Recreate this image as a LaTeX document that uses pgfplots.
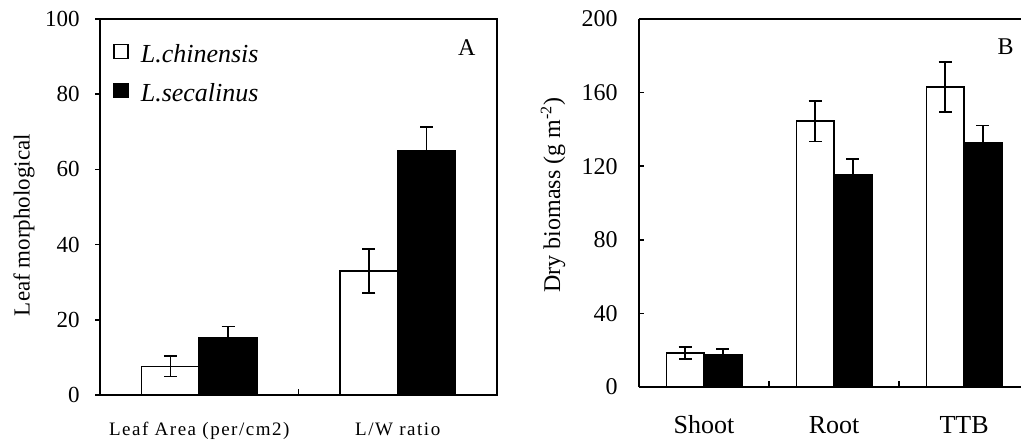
\documentclass[border=0pt]{standalone}
\usepackage{fontspec}
\setmainfont{Liberation Serif}
\usepackage{pgfplots}
\pgfplotsset{compat=1.18}

\pgfplotsset{
  panel/.style={
    scale only axis,
    anchor=south west,
    ybar, bar width=0.29,
    axis line style={line width=0.9pt},
    tick pos=left, tick align=inside,
    major tick length=2.5pt, minor tick length=3pt,
    tick style={black, line width=0.8pt},
    major x tick style={draw=none},
    /pgf/number format/assume math mode=true,
    yticklabel style={anchor=east, inner sep=0pt},
    xticklabel style={anchor=base, inner sep=0pt},
    legend cell align=left,
  },
  bars/.style={draw=black, line width=0.8pt,
    error bars/y dir=both, error bars/y explicit,
    error bars/error bar style={black, line width=0.8pt},
    error bars/error mark options={black, line width=0.8pt, mark size=3.25pt, rotate=90}},
}

\begin{document}
\begin{tikzpicture}
\useasboundingbox (0pt,0pt) rectangle (510.5pt,219.5pt);

% panel A
\begin{axis}[panel,
  at={(50pt,22pt)}, width=198.5pt, height=188pt,
  xmin=-0.5, xmax=1.5, ymin=0, ymax=100,
  xtick={0,1}, minor xtick={0.5},
  xticklabels={Leaf Area (per/cm2), L/W ratio},
  ytick={0,20,...,100},
  major y tick style={xshift=-2.5pt},
  yticklabel style={xshift=-10pt, font=\fontsize{11.5}{13}\selectfont},
  xticklabel style={yshift=-20pt, font=\fontsize{9.5}{11}\selectfont\addfontfeature{LetterSpace=8}},
  ylabel={Leaf morphological},
  ylabel style={at={(axis description cs:0,0.5)}, anchor=center, yshift=38pt, xshift=-9pt, font=\fontsize{11.5}{13}\selectfont},
  legend style={at={(0,1)}, anchor=north west, xshift=6.5pt, yshift=-12.25pt,
    draw=none, fill=none, inner sep=0pt, row sep=8.6pt, column sep=6pt,
    font=\fontsize{13}{15}\selectfont\itshape, nodes={inner sep=0pt}},
]
\addplot[bars, fill=white, bar shift=-0.145,
  legend image code/.code={\draw[black, line width=0.7pt, fill=white] (0pt,-1.75pt) rectangle (7pt,5.25pt);}]
  coordinates {(0,7.6) +- (0,2.7) (1,33.0) +- (0,5.8)};
\addlegendentry{L.chinensis}
\addplot[bars, fill=black, bar shift=0.145,
  legend image code/.code={\draw[black, line width=0.7pt, fill=black] (0pt,-1.75pt) rectangle (7pt,5.25pt);}]
  coordinates {(0,15.1) +- (0,3.1) (1,65.0) +- (0,6.2)};
\addlegendentry{L.secalinus}
\node[font=\fontsize{12}{14}\selectfont] at (rel axis cs:0.924,0.923) {A};
\end{axis}

% panel B (cut at the right edge of the picture, as in the original)
\begin{axis}[panel,
  at={(319.5pt,26pt)}, width=191pt, height=184pt,
  axis y line*=left,
  xmin=-0.5, xmax=2.438, ymin=0, ymax=200,
  xtick={0,1,2}, minor xtick={0.5,1.5},
  xticklabels={Shoot, Root, TTB},
  ytick={0,40,...,200},
  yticklabel style={xshift=-10.5pt, font=\fontsize{12}{14}\selectfont},
  xticklabel style={yshift=-23pt, font=\fontsize{13}{15}\selectfont},
  ylabel={Dry biomass (g m\textsuperscript{-2})},
  ylabel style={at={(axis description cs:0,0.5)}, anchor=center, yshift=43pt, xshift=4pt, font=\fontsize{12}{14}\selectfont},
]
\addplot[bars, fill=white, bar shift=-0.145]
  coordinates {(0,18.5) +- (0,3.4) (1,144.5) +- (0,11.0) (2,163.0) +- (0,13.6)};
\addplot[bars, fill=black, bar shift=0.145]
  coordinates {(0,17.5) +- (0,3.0) (1,115.5) +- (0,8.5) (2,132.5) +- (0,9.7)};
\node[font=\fontsize{12}{14}\selectfont] at (rel axis cs:0.96,0.924) {B};
\end{axis}
\end{tikzpicture}
\end{document}
